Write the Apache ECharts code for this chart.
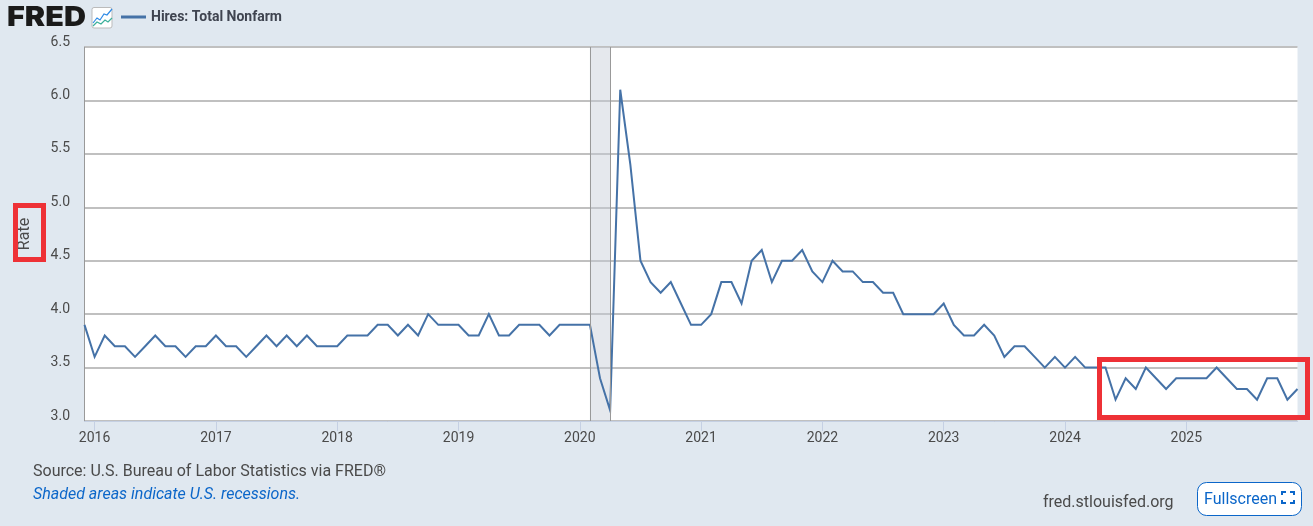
<!DOCTYPE html>
<html>
<head>
<meta charset="utf-8">
<title>Hires: Total Nonfarm</title>
<script src="https://cdn.jsdelivr.net/npm/echarts@6/dist/echarts.min.js"></script>
<style>
  html, body { margin: 0; padding: 0; background: #e0e8f0; }
  #chart { width: 1313px; height: 526px; }
</style>
</head>
<body>
<div id="chart"></div>
<script>
// monthly rate, one row per year
const values2015 = [3.9] // Dec only
const values2016 = [3.6, 3.8, 3.7, 3.7, 3.6, 3.7, 3.8, 3.7, 3.7, 3.6, 3.7, 3.7]
const values2017 = [3.8, 3.7, 3.7, 3.6, 3.7, 3.8, 3.7, 3.8, 3.7, 3.8, 3.7, 3.7]
const values2018 = [3.7, 3.8, 3.8, 3.8, 3.9, 3.9, 3.8, 3.9, 3.8, 4.0, 3.9, 3.9]
const values2019 = [3.9, 3.8, 3.8, 4.0, 3.8, 3.8, 3.9, 3.9, 3.9, 3.8, 3.9, 3.9]
const values2020 = [3.9, 3.9, 3.4, 3.1, 6.1, 5.4, 4.5, 4.3, 4.2, 4.3, 4.1, 3.9]
const values2021 = [3.9, 4.0, 4.3, 4.3, 4.1, 4.5, 4.6, 4.3, 4.5, 4.5, 4.6, 4.4]
const values2022 = [4.3, 4.5, 4.4, 4.4, 4.3, 4.3, 4.2, 4.2, 4.0, 4.0, 4.0, 4.0]
const values2023 = [4.1, 3.9, 3.8, 3.8, 3.9, 3.8, 3.6, 3.7, 3.7, 3.6, 3.5, 3.6]
const values2024 = [3.5, 3.6, 3.5, 3.5, 3.5, 3.2, 3.4, 3.3, 3.5, 3.4, 3.3, 3.4]
const values2025 = [3.4, 3.4, 3.4, 3.5, 3.4, 3.3, 3.3, 3.2, 3.4, 3.4, 3.2, 3.3]

const hires = [].concat(values2015, values2016, values2017, values2018, values2019, values2020,
  values2021, values2022, values2023, values2024, values2025)

const months = ['2015-12']
for (let y = 2016; y <= 2025; y++) {
  for (let m = 1; m <= 12; m++) {
    months.push(y + '-' + (m < 10 ? '0' + m : m))
  }
}

const recession = ['2020-02', '2020-04']
const yTicks = { min: 3, max: 6.5, step: 0.5 }
const seriesName = 'Hires: Total Nonfarm'

const RED = '#ee3136'
const BLUE = '#0b66c9'
const isJanuary = (index) => months[index].endsWith('-01')

const chart = echarts.init(document.getElementById('chart'), null, { renderer: 'canvas' })

chart.setOption({
  animation: false,
  backgroundColor: '#e0e8f0',
  textStyle: { fontFamily: 'Roboto' },
  legend: {
    left: 116,
    top: 5,
    itemWidth: 25,
    itemHeight: 3,
    itemGap: 5,
    icon: 'rect',
    textStyle: { fontSize: 14, fontWeight: 'bold', color: '#3f4450', fontFamily: 'Roboto' },
    data: [seriesName]
  },
  grid: {
    left: 84.5,
    right: 15.5,
    top: 47,
    height: 374,
    show: true,
    backgroundColor: '#fff',
    borderWidth: 0
  },
  xAxis: {
    type: 'category',
    boundaryGap: false,
    data: months,
    axisLine: { lineStyle: { color: '#c5d0e3', width: 1 } },
    axisTick: { interval: isJanuary, length: 10, lineStyle: { color: '#c5d0e3' } },
    axisLabel: {
      interval: isJanuary,
      margin: 10,
      fontSize: 14,
      color: '#4a4a4a',
      formatter: (v) => v.slice(0, 4)
    },
    splitLine: { show: false }
  },
  yAxis: {
    type: 'value',
    min: yTicks.min,
    max: yTicks.max,
    interval: yTicks.step,
    name: 'Rate',
    nameLocation: 'middle',
    nameGap: 52,
    nameTextStyle: { fontSize: 16, color: '#4a4a4a', fontFamily: 'Roboto' },
    axisLine: { show: true, lineStyle: { color: '#999', width: 1 } },
    axisTick: { show: false },
    axisLabel: {
      margin: 14.5,
      fontSize: 14,
      color: '#4a4a4a',
      verticalAlign: 'bottom',
      lineHeight: 10,
      formatter: (v) => v.toFixed(1)
    },
    splitLine: { show: true, lineStyle: { color: '#c0c0c0', width: 2 } }
  },
  series: [
    {
      name: seriesName,
      type: 'line',
      data: hires,
      symbol: 'none',
      itemStyle: { color: '#4572a7' },
      lineStyle: { color: '#4572a7', width: 2, join: 'miter' },
      markArea: {
        silent: true,
        itemStyle: { color: 'rgba(198, 205, 214, 0.45)' },
        data: [[{ xAxis: recession[0] }, { xAxis: recession[1] }]]
      },
      markLine: {
        silent: true,
        symbol: 'none',
        label: { show: false },
        lineStyle: { color: '#999', width: 1, type: 'solid' },
        data: [{ xAxis: recession[0] }, { xAxis: recession[1] }]
      }
    }
  ],
  graphic: [
    // logo
    { type: 'text', x: 7, y: 4, scaleX: 1.13, style: { text: 'FRED', fontFamily: 'Inter', fontWeight: 900, fontSize: 27, fill: '#1a1a1a' } },
    { type: 'rect', shape: { x: 92, y: 7.5, width: 20, height: 20.5, r: 2 }, style: { fill: '#fff', stroke: '#bbb', lineWidth: 1 } },
    { type: 'polyline', shape: { points: [[93, 23], [97, 18], [100, 20], [104, 14], [107, 15], [112, 9]] }, style: { fill: 'none', stroke: '#2f8be6', lineWidth: 1.2 } },
    { type: 'polyline', shape: { points: [[93, 26], [97, 22], [101, 24], [105, 20], [108, 22], [112, 18]] }, style: { fill: 'none', stroke: '#3cb09b', lineWidth: 1.2 } },
    // red annotation boxes
    { type: 'rect', z: 50, shape: { x: 15.5, y: 205.5, width: 28, height: 54 }, style: { fill: 'none', stroke: RED, lineWidth: 5 } },
    { type: 'rect', z: 50, shape: { x: 1099.5, y: 359.5, width: 208, height: 58 }, style: { fill: 'none', stroke: RED, lineWidth: 5 } },
    // footer
    { type: 'text', left: 33, top: 464, style: { text: 'Source: U.S. Bureau of Labor Statistics via FRED®', fontFamily: 'Roboto', fontSize: 16, fill: '#4a4a4a' } },
    { type: 'text', left: 33, top: 487, style: { text: 'Shaded areas indicate U.S. recessions.', fontFamily: 'Roboto', fontStyle: 'italic', fontSize: 16, fill: BLUE } },
    { type: 'text', left: 1043, top: 495, style: { text: 'fred.stlouisfed.org', fontFamily: 'Roboto', fontSize: 16, fill: '#4a4a4a' } },
    // fullscreen button
    { type: 'rect', shape: { x: 1197.5, y: 482.5, width: 104, height: 33, r: 9 }, style: { fill: '#fff', stroke: BLUE, lineWidth: 1 } },
    { type: 'text', left: 1204, top: 492, style: { text: 'Fullscreen', fontFamily: 'Roboto', fontSize: 16, fill: BLUE } },
    { type: 'polyline', shape: { points: [[1282, 495], [1282, 492], [1286, 492]] }, style: { fill: 'none', stroke: BLUE, lineWidth: 2 } },
    { type: 'polyline', shape: { points: [[1290, 492], [1294, 492], [1294, 495]] }, style: { fill: 'none', stroke: BLUE, lineWidth: 2 } },
    { type: 'polyline', shape: { points: [[1282, 500], [1282, 503], [1286, 503]] }, style: { fill: 'none', stroke: BLUE, lineWidth: 2 } },
    { type: 'polyline', shape: { points: [[1290, 503], [1294, 503], [1294, 500]] }, style: { fill: 'none', stroke: BLUE, lineWidth: 2 } }
  ]
})
</script>
</body>
</html>
